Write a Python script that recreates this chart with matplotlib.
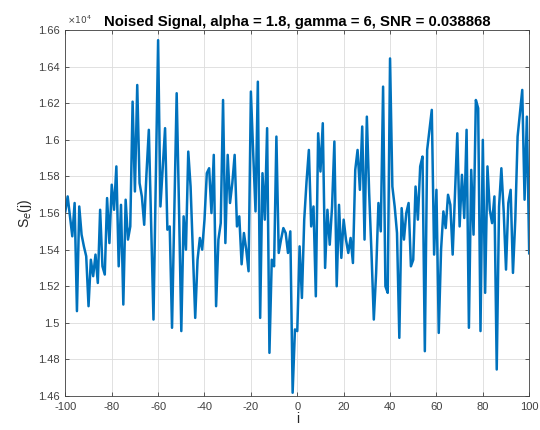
import numpy as np
import matplotlib.pyplot as plt
from matplotlib.ticker import FuncFormatter

plt.rcParams['font.family'] = ['Liberation Sans', 'DejaVu Sans']
plt.rcParams['axes.unicode_minus'] = False

# signal values (x 1e4), i = -100 .. 100
s_a = [1.5609, 1.5691, 1.5582, 1.5473, 1.5655, 1.5064, 1.5636, 1.5482, 1.5418, 1.5364,
       1.5091, 1.5345, 1.5255, 1.5373, 1.5218, 1.5618, 1.5309, 1.5264, 1.5682, 1.5436,
       1.5755, 1.5618, 1.5855, 1.5309, 1.5645, 1.5100, 1.5673, 1.5455, 1.5527, 1.6209,
       1.5718, 1.6300, 1.5764, 1.5690, 1.5536, 1.5820, 1.6055, 1.5540, 1.5018, 1.5782]
s_b = [1.6545, 1.5636, 1.5855, 1.6064, 1.5509, 1.5527, 1.4973, 1.5618, 1.6255, 1.5636,
       1.4955, 1.5582, 1.5400, 1.5936, 1.5745, 1.5382, 1.5027, 1.5345, 1.5464, 1.5400,
       1.5564, 1.5818, 1.5845, 1.5600, 1.5918, 1.5091, 1.5455, 1.5545, 1.6218, 1.5436,
       1.5918, 1.5655, 1.5764, 1.5918, 1.5527, 1.5582, 1.5320, 1.5491, 1.5400, 1.5282]
s_c = [1.6264, 1.5927, 1.5609, 1.6318, 1.5027, 1.5818, 1.5564, 1.6064, 1.4836, 1.5345,
       1.5309, 1.6018, 1.5382, 1.5455, 1.5518, 1.5491, 1.5382, 1.5500, 1.4618, 1.4964,
       1.4955, 1.5418, 1.5136, 1.5564, 1.5773, 1.5945, 1.5527, 1.5636, 1.5145, 1.6036,
       1.5827, 1.6091, 1.5300, 1.5618, 1.5427, 1.5636, 1.5991, 1.5200, 1.5645, 1.5355]
s_d = [1.5564, 1.5455, 1.5382, 1.5464, 1.5327, 1.5836, 1.5945, 1.5727, 1.6073, 1.5455,
       1.6127, 1.5709, 1.5382, 1.5018, 1.5273, 1.5655, 1.5500, 1.6291, 1.5200, 1.5164,
       1.6445, 1.5745, 1.5636, 1.5491, 1.4918, 1.5627, 1.5455, 1.5600, 1.5655, 1.5309,
       1.5345, 1.5745, 1.5564, 1.5855, 1.5909, 1.4845, 1.5945, 1.6055, 1.6164, 1.5373]
s_e = [1.5727, 1.4945, 1.5400, 1.5609, 1.5518, 1.5700, 1.5645, 1.5373, 1.5709, 1.6036,
       1.5527, 1.5809, 1.5573, 1.6055, 1.4973, 1.5836, 1.5482, 1.6218, 1.6173, 1.4955,
       1.6000, 1.5164, 1.5855, 1.5618, 1.5545, 1.5691, 1.4745, 1.5636, 1.5845, 1.5609,
       1.5291, 1.5655, 1.5727, 1.5273, 1.5564, 1.6018, 1.6145, 1.6273, 1.5673, 1.6127,
       1.5380]

i = np.arange(-100, 101)
se = np.array(s_a + s_b + s_c + s_d + s_e) * 1e4

fig = plt.figure(figsize=(5.4, 4.3), dpi=100)
ax = fig.add_axes([0.121, 0.079, 0.859, 0.851])
ax.plot(i, se, color='#0072BD', lw=1.8)

ax.set_xlim(-100, 100)
ax.set_ylim(14600, 16600)
ax.set_xticks(np.arange(-100, 101, 20))
ax.set_yticks(np.arange(14600, 16601, 200))
ax.yaxis.set_major_formatter(FuncFormatter(lambda v, p: f"{v/1e4:g}"))
ax.grid(True, color='#dcdcdc', lw=0.6)
ax.set_axisbelow(True)
ax.tick_params(direction='in', top=True, right=True, length=3, width=0.6,
               labelsize=8, colors='#404040')
ax.tick_params(axis='x', pad=4)
ax.tick_params(axis='y', pad=4)
for sp in ax.spines.values():
    sp.set_color('#404040')
    sp.set_linewidth(0.6)

ax.text(0.004, 1.012, r'$\times10^4$', transform=ax.transAxes, fontsize=6.5,
        color='#404040', ha='left', va='bottom')
ax.set_title('Noised Signal, alpha = 1.8, gamma = 6, SNR = 0.038868',
             fontsize=10.7, fontweight='bold', pad=3)
ax.set_xlabel('i', fontsize=10, color='#262626', labelpad=0)
ax.set_ylabel(r'S$_e$(j)', fontsize=10, color='#262626', labelpad=3)

fig.savefig('out.png', dpi=100)
